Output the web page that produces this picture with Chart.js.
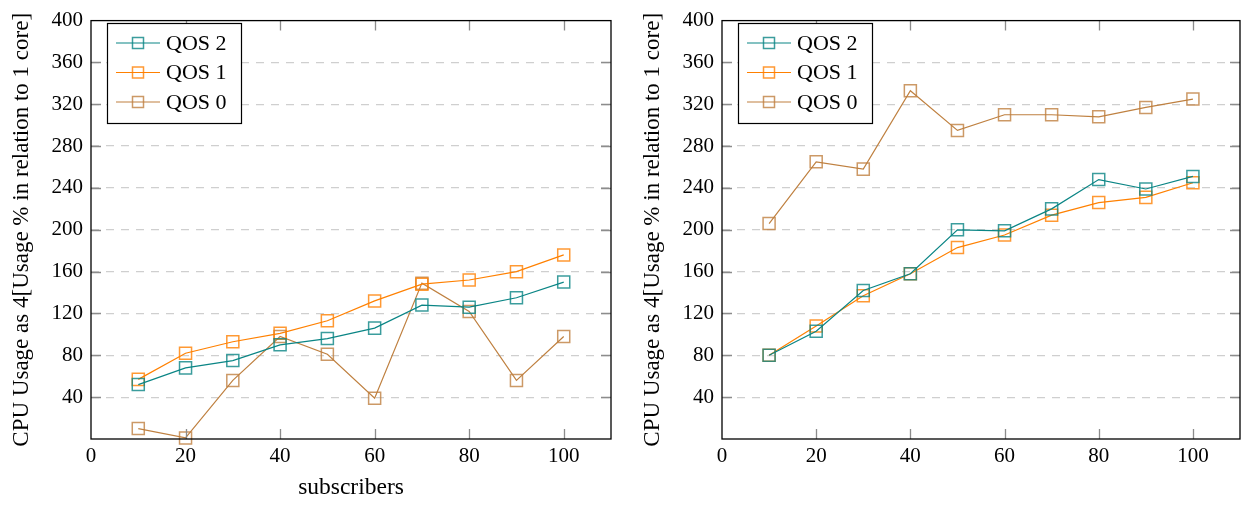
<!DOCTYPE html>
<html>
<head>
<meta charset="utf-8">
<script src="https://cdn.jsdelivr.net/npm/chart.js@4.4.1/dist/chart.umd.min.js"></script>
<style>
	html, body { margin: 0; padding: 0; background: #ffffff; }
	#wrap { position: relative; width: 1244px; height: 506px; overflow: hidden; }
	#leftBox { position: absolute; left: 0; top: 0; width: 622px; height: 506px; }
	#rightBox { position: absolute; left: 631px; top: 0; width: 619px; height: 506px; }
</style>
</head>
<body>
<div id="wrap">
	<div id="leftBox"><canvas id="leftChart" width="622" height="506"></canvas></div>
	<div id="rightBox"><canvas id="rightChart" width="619" height="506"></canvas></div>
</div>
<script>
// Data
const subscribers = [10, 20, 30, 40, 50, 60, 70, 80, 90, 100];
const seriesNames = ['QOS 2', 'QOS 1', 'QOS 0'];

// left chart
const qos2Left = [52, 68, 75, 90, 96, 106, 128, 126, 135, 150];
const qos1Left = [57, 82, 93, 101, 113, 132, 148, 152, 160, 176];
const qos0Left = [10, 1, 56, 98, 81, 39, 149, 122, 56, 98];

// right chart
const qos2Right = [80, 103, 142, 158, 200, 199, 220, 248, 239, 251];
const qos1Right = [80, 108, 137, 158, 183, 195, 214, 226, 231, 245];
const qos0Right = [206, 265, 258, 333, 295, 310, 310, 308, 317, 325];

const xTicks = [0, 20, 40, 60, 80, 100];
const yTitle = 'CPU Usage as 4[Usage % in relation to 1 core]';
const xTitle = 'subscribers';

const colors = ['#0a8585', '#ff8000', '#bf8040'];
const markerColors = ['rgba(10,133,133,0.8)', 'rgba(255,128,0,0.8)', 'rgba(191,128,64,0.8)'];
const serif = "'Liberation Serif', 'DejaVu Serif', serif";

// frame, inside tick marks and boxed legend like pgfplots
const pgfPlugin = {
	id: 'pgfFrame',
	afterDraw(chart) {
		const ctx = chart.ctx;
		const a = chart.chartArea;
		const xs = chart.scales.x;
		const ys = chart.scales.y;
		ctx.save();

		// tick marks
		ctx.strokeStyle = '#8c8c8c';
		ctx.lineWidth = 1.3;
		ctx.beginPath();
		xs.ticks.forEach(t => {
			if (t.value <= 0) return;
			const px = Math.round(xs.getPixelForValue(t.value)) + 0.5;
			ctx.moveTo(px, a.bottom); ctx.lineTo(px, a.bottom - 10);
			ctx.moveTo(px, a.top); ctx.lineTo(px, a.top + 10);
		});
		ys.ticks.forEach(t => {
			if (t.value <= 0 || t.value >= 400) return;
			const py = Math.round(ys.getPixelForValue(t.value)) + 0.5;
			ctx.moveTo(a.left, py); ctx.lineTo(a.left + 10, py);
			ctx.moveTo(a.right, py); ctx.lineTo(a.right - 10, py);
		});
		ctx.stroke();

		// frame
		ctx.strokeStyle = '#000000';
		ctx.lineWidth = 1.3;
		ctx.strokeRect(a.left, a.top, a.right - a.left, a.bottom - a.top);

		// legend
		const bx = a.left + 16, by = 23, bw = 134, bh = 100;
		ctx.fillStyle = '#ffffff';
		ctx.fillRect(bx, by, bw, bh);
		ctx.strokeStyle = '#000000';
		ctx.lineWidth = 1.2;
		ctx.strokeRect(bx + 0.5, by + 0.5, bw, bh);
		ctx.font = '22px ' + serif;
		ctx.textBaseline = 'middle';
		chart.data.datasets.forEach((ds, i) => {
			const ly = by + 20 + i * 29.5;
			ctx.strokeStyle = ds.borderColor;
			ctx.lineWidth = 1.2;
			ctx.beginPath();
			ctx.moveTo(bx + 9, ly); ctx.lineTo(bx + 53, ly);
			ctx.stroke();
			ctx.strokeStyle = ds.pointBorderColor;
			ctx.lineWidth = 1.5;
			ctx.strokeRect(bx + 31 - 5.5, ly - 5.5, 11, 11);
			ctx.fillStyle = '#000000';
			ctx.fillText(ds.label, bx + 59, ly + 1);
		});
		ctx.restore();
	}
};

function makeDatasets(lists) {
	return lists.map((vals, i) => ({
		label: seriesNames[i],
		data: subscribers.map((s, k) => ({ x: s, y: vals[k] })),
		borderColor: colors[i],
		borderWidth: 1.2,
		pointStyle: 'rect',
		pointRadius: 8.5,
		pointHoverRadius: 8.5,
		pointBorderWidth: 1.5,
		pointBorderColor: markerColors[i],
		pointBackgroundColor: 'rgba(0,0,0,0)',
		tension: 0,
		clip: false
	}));
}

function makeChart(canvasId, lists, showXTitle, rightPad) {
	const ctx = document.getElementById(canvasId).getContext('2d');
	return new Chart(ctx, {
		type: 'line',
		data: { datasets: makeDatasets(lists) },
		options: {
			responsive: false,
			animation: false,
			events: [],
			layout: { padding: { top: 9, right: rightPad, bottom: 0, left: 0 } },
			plugins: { legend: { display: false }, tooltip: { enabled: false } },
			scales: {
				x: {
					type: 'linear',
					min: 0,
					max: 110,
					afterBuildTicks: scale => { scale.ticks = xTicks.map(v => ({ value: v })); },
					afterFit: scale => {
						scale.height = 67;
						scale.paddingLeft = 0;
						scale.paddingRight = 0;
					},
					grid: { display: false, drawTicks: false },
					border: { display: false },
					ticks: { color: '#000000', padding: 5, maxRotation: 0, font: { family: serif, size: 21 } },
					title: {
						display: showXTitle,
						text: xTitle,
						color: '#000000',
						padding: { top: 0, bottom: 4 },
						font: { family: serif, size: 23.5 }
					}
				},
				y: {
					min: 0,
					max: 400,
					afterFit: scale => { scale.width = 91; },
					grid: {
						drawTicks: false,
						lineWidth: 1.3,
						color: c => (c.tick && (c.tick.value === 0 || c.tick.value === 400)) ? 'rgba(0,0,0,0)' : '#cfcfcf'
					},
					border: { display: false, dash: [8, 7] },
					ticks: {
						stepSize: 40,
						color: '#000000',
						padding: 8,
						font: { family: serif, size: 21 },
						callback: v => v === 0 ? '' : v
					},
					title: {
						display: true,
						text: yTitle,
						color: '#000000',
						padding: { top: 8, bottom: 0 },
						font: { family: serif, size: 23 }
					}
				}
			}
		},
		plugins: [pgfPlugin]
	});
}

makeChart('leftChart', [qos2Left, qos1Left, qos0Left], true, 11);
makeChart('rightChart', [qos2Right, qos1Right, qos0Right], false, 4);
</script>
</body>
</html>
